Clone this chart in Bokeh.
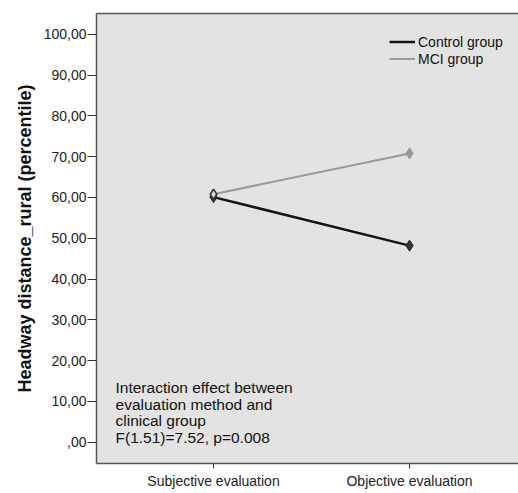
from bokeh.plotting import figure
from bokeh.models import Range1d, FixedTicker, Legend, LegendItem, Label, LinearAxis
from bokeh.embed import file_html
from bokeh.resources import INLINE

categories = ["Subjective evaluation", "Objective evaluation"]
control_vals = [60.1, 48.2]
mci_vals = [60.8, 70.8]
y_ticks = [0, 10, 20, 30, 40, 50, 60, 70, 80, 90, 100]
annotation = "Interaction effect between\nevaluation method and\nclinical group\nF(1.51)=7.52, p=0.008"

xs = list(range(len(categories)))
FONT = "Liberation Sans"

p = figure(width=518, height=493, output_backend="svg", toolbar_location=None,
           x_range=Range1d(-0.597, 1.556), y_range=Range1d(-5.2, 105.1),
           min_border_left=96, min_border_right=0, min_border_top=13, min_border_bottom=30)
p.background_fill_color = "#e3e3e3"
p.border_fill_color = "white"
p.outline_line_color = None
p.grid.visible = False

xaxis = p.below[0]
yaxis = p.left[0]

# top frame line (no ticks, no labels)
top_axis = LinearAxis(ticker=FixedTicker(ticks=[]), major_tick_out=0, major_tick_in=0,
                      major_label_text_font_size="0px", minor_tick_line_color=None,
                      axis_line_color="#555555", axis_line_width=1.5)
p.add_layout(top_axis, "above")

# y axis
yaxis.ticker = FixedTicker(ticks=y_ticks)
def fmt(v):
    s = f"{v:.2f}".replace(".", ",")
    return s[1:] if s.startswith("0") else s
yaxis.major_label_overrides = {v: fmt(v) for v in y_ticks}
yaxis.minor_tick_line_color = None
yaxis.major_tick_in = 0
yaxis.major_tick_out = 9
yaxis.major_label_standoff = 1
yaxis.axis_label = "Headway distance_rural (percentile)"
yaxis.axis_label_text_font = FONT
yaxis.axis_label_text_font_style = "bold"
yaxis.axis_label_text_font_size = "18px"
yaxis.axis_label_text_color = "#111111"
yaxis.axis_label_standoff = 6

# x axis
xaxis.ticker = FixedTicker(ticks=xs)
xaxis.major_label_overrides = {i: c for i, c in zip(xs, categories)}
xaxis.minor_tick_line_color = None
xaxis.major_tick_in = 0
xaxis.major_tick_out = 5
xaxis.major_label_standoff = 4

for ax in (xaxis, yaxis):
    ax.axis_line_color = "#555555"
    ax.axis_line_width = 1.5
    ax.major_tick_line_color = "#333333"
    ax.major_label_text_font = FONT
    ax.major_label_text_font_size = "14px"
    ax.major_label_text_color = "#222222"

r_ctrl = p.line(xs, control_vals, line_color="#151515", line_width=2.5)
p.scatter(xs, control_vals, marker="diamond", size=11, fill_color="#333333", line_color="#222222")
r_mci = p.line(xs, mci_vals, line_color="#9a9a9a", line_width=2)
p.scatter(xs[1:], mci_vals[1:], marker="diamond", size=11, fill_color="#999999", line_color="#999999")
p.scatter(xs[:1], mci_vals[:1], marker="diamond", size=10, fill_color="#d8d8d8", line_color="#333333", line_width=1.5)

legend = Legend(items=[LegendItem(label="Control group", renderers=[r_ctrl]),
                       LegendItem(label="MCI group", renderers=[r_mci])],
                location=(293, 396), background_fill_alpha=0, border_line_color=None,
                label_text_font=FONT, label_text_font_size="14px", label_text_color="#111111",
                glyph_width=26, glyph_height=17, label_height=17, spacing=0, padding=2,
                label_standoff=3, margin=0)
p.add_layout(legend)

p.add_layout(Label(x=-0.5, y=15.5, text=annotation, text_baseline="top", text_align="left",
                   text_font=FONT, text_font_size="15.5px", text_color="#111111",
                   text_line_height=0.97))

open("out.html", "w").write(file_html(p, INLINE))
